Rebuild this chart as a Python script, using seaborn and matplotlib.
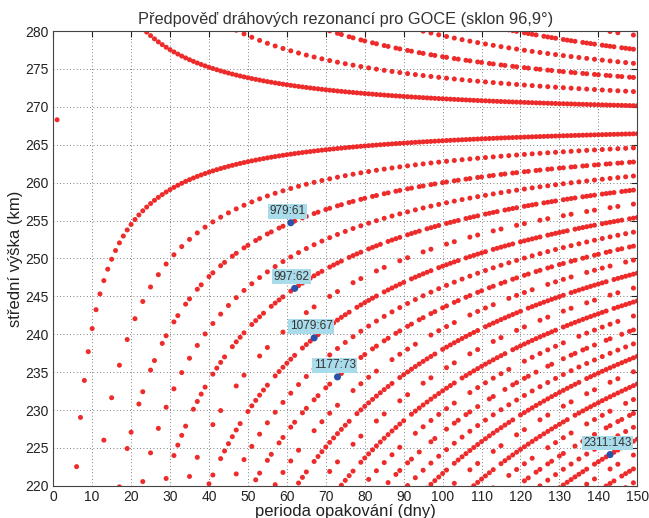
import math
import numpy as np
import pandas as pd
import matplotlib
matplotlib.use("Agg")
import matplotlib.pyplot as plt
import seaborn as sns

# repeat periods on the x axis (days)
max_days = 150
# altitude of the 16:1 resonance (km), Earth radius for the Kepler scaling
alt_16_1 = 268.3
earth_r = 6378.137
# altitude window shown
alt_lo, alt_hi = 220, 280

# resonances marked with data tips (revolutions : days)
tip_revs = [979, 997, 1079, 1177, 2311]
tip_days = [61, 62, 67, 73, 143]


def altitude(revs, days):
    # mean altitude for revs/days resonance, scaled from the 16:1 point (Kepler 3rd law)
    n = revs / days
    return (earth_r + alt_16_1) * (n / 16.0) ** (-2.0 / 3.0) - earth_r


rows = []
for d in range(1, max_days + 1):
    for r in range(int(15.9 * d), int(16.2 * d) + 2):
        if math.gcd(r, d) != 1:
            continue
        h = altitude(r, d)
        if alt_lo - 1 <= h <= alt_hi + 1:
            rows.append((d, h))
df = pd.DataFrame(rows, columns=["days", "alt"])

tips = pd.DataFrame({"revs": tip_revs, "days": tip_days})
tips["alt"] = altitude(tips["revs"], tips["days"])

sns.set_style("white")
plt.rcParams["font.family"] = ["Liberation Sans", "DejaVu Sans"]

fig = plt.figure(figsize=(6.49, 5.18), dpi=100)
ax = fig.add_axes([0.082, 0.062, 0.9, 0.878])

sns.scatterplot(data=df, x="days", y="alt", ax=ax, s=13, color="#ee2b2b",
                edgecolor="none", linewidth=0, legend=False)
sns.scatterplot(data=tips, x="days", y="alt", ax=ax, s=26, color="#2a52a8",
                edgecolor="none", linewidth=0, legend=False, zorder=4)

# data tips like matlab
for _, t in tips.iterrows():
    ax.annotate("%d:%d" % (t["revs"], t["days"]), (t["days"], t["alt"]),
                xytext=(-2, 4), textcoords="offset points", ha="center", va="bottom",
                fontsize=8.5, color="#333333", zorder=5,
                bbox=dict(boxstyle="square,pad=0.12", fc="#a9dcea", ec="none"))

ax.set_xlim(0, 150)
ax.set_ylim(220, 280)
ax.set_xticks(np.arange(0, 151, 10))
ax.set_yticks(np.arange(220, 281, 5))
ax.grid(True, linestyle=(0, (1, 3)), color="#555555", linewidth=0.6)
ax.tick_params(direction="in", length=4, top=True, right=True, labelsize=10,
               pad=3, colors="#222222")
for s in ax.spines.values():
    s.set_color("#444444")
    s.set_linewidth(0.8)

ax.set_title("Předpověď dráhových rezonancí pro GOCE (sklon 96,9°)",
             fontsize=11.8, color="#333333", pad=5)
ax.set_xlabel("perioda opakování (dny)", fontsize=12, labelpad=0, color="#222222")
ax.set_ylabel("střední výška (km)", fontsize=12, labelpad=2, color="#222222")

fig.savefig("out.png", dpi=100)
